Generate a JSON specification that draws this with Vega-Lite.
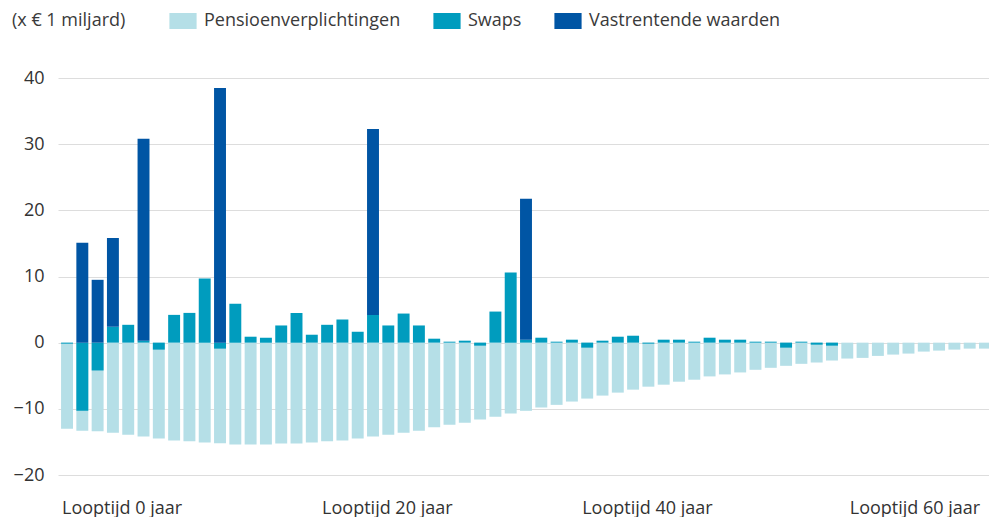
{
  "$schema": "https://vega.github.io/schema/vega-lite/v6.json",
  "autosize": {"type": "none"},
  "padding": {"left": 58, "top": 78, "right": 0, "bottom": 42},
  "width": 931,
  "height": 397,
  "background": "white",
  "config": {
    "view": {"stroke": null},
    "font": "Open Sans",
    "axis": {"labelFont": "Open Sans", "labelFontSize": 18, "labelColor": "#333333"},
    "legend": {"labelFont": "Open Sans", "titleFont": "Open Sans"}
  },
  "data": {
    "values": [
      {"j": 0, "Pensioenverplichtingen": -13.0, "Swaps": -0.15, "Vastrentende waarden": 0},
      {"j": 1, "Pensioenverplichtingen": -13.3, "Swaps": -10.3, "Vastrentende waarden": 15.1},
      {"j": 2, "Pensioenverplichtingen": -13.4, "Swaps": -4.2, "Vastrentende waarden": 9.5},
      {"j": 3, "Pensioenverplichtingen": -13.6, "Swaps": 2.4, "Vastrentende waarden": 13.4},
      {"j": 4, "Pensioenverplichtingen": -13.9, "Swaps": 2.7, "Vastrentende waarden": 0},
      {"j": 5, "Pensioenverplichtingen": -14.2, "Swaps": 0.3, "Vastrentende waarden": 30.5},
      {"j": 6, "Pensioenverplichtingen": -14.5, "Swaps": -1.05, "Vastrentende waarden": 0},
      {"j": 7, "Pensioenverplichtingen": -14.8, "Swaps": 4.2, "Vastrentende waarden": 0},
      {"j": 8, "Pensioenverplichtingen": -14.9, "Swaps": 4.5, "Vastrentende waarden": 0},
      {"j": 9, "Pensioenverplichtingen": -15.1, "Swaps": 9.7, "Vastrentende waarden": 0},
      {"j": 10, "Pensioenverplichtingen": -15.2, "Swaps": -0.9, "Vastrentende waarden": 38.5},
      {"j": 11, "Pensioenverplichtingen": -15.4, "Swaps": 5.9, "Vastrentende waarden": 0},
      {"j": 12, "Pensioenverplichtingen": -15.4, "Swaps": 0.9, "Vastrentende waarden": 0},
      {"j": 13, "Pensioenverplichtingen": -15.4, "Swaps": 0.75, "Vastrentende waarden": 0},
      {"j": 14, "Pensioenverplichtingen": -15.25, "Swaps": 2.6, "Vastrentende waarden": 0},
      {"j": 15, "Pensioenverplichtingen": -15.25, "Swaps": 4.5, "Vastrentende waarden": 0},
      {"j": 16, "Pensioenverplichtingen": -15.1, "Swaps": 1.2, "Vastrentende waarden": 0},
      {"j": 17, "Pensioenverplichtingen": -14.9, "Swaps": 2.7, "Vastrentende waarden": 0},
      {"j": 18, "Pensioenverplichtingen": -14.8, "Swaps": 3.5, "Vastrentende waarden": 0},
      {"j": 19, "Pensioenverplichtingen": -14.5, "Swaps": 1.65, "Vastrentende waarden": 0},
      {"j": 20, "Pensioenverplichtingen": -14.2, "Swaps": 4.2, "Vastrentende waarden": 28.1},
      {"j": 21, "Pensioenverplichtingen": -13.9, "Swaps": 2.6, "Vastrentende waarden": 0},
      {"j": 22, "Pensioenverplichtingen": -13.6, "Swaps": 4.4, "Vastrentende waarden": 0},
      {"j": 23, "Pensioenverplichtingen": -13.3, "Swaps": 2.6, "Vastrentende waarden": 0},
      {"j": 24, "Pensioenverplichtingen": -12.8, "Swaps": 0.6, "Vastrentende waarden": 0},
      {"j": 25, "Pensioenverplichtingen": -12.4, "Swaps": 0.15, "Vastrentende waarden": 0},
      {"j": 26, "Pensioenverplichtingen": -12.1, "Swaps": 0.3, "Vastrentende waarden": 0},
      {"j": 27, "Pensioenverplichtingen": -11.6, "Swaps": -0.45, "Vastrentende waarden": 0},
      {"j": 28, "Pensioenverplichtingen": -11.2, "Swaps": 4.7, "Vastrentende waarden": 0},
      {"j": 29, "Pensioenverplichtingen": -10.7, "Swaps": 10.6, "Vastrentende waarden": 0},
      {"j": 30, "Pensioenverplichtingen": -10.3, "Swaps": 0.45, "Vastrentende waarden": 21.3},
      {"j": 31, "Pensioenverplichtingen": -9.8, "Swaps": 0.75, "Vastrentende waarden": 0},
      {"j": 32, "Pensioenverplichtingen": -9.4, "Swaps": 0.15, "Vastrentende waarden": 0},
      {"j": 33, "Pensioenverplichtingen": -8.9, "Swaps": 0.45, "Vastrentende waarden": 0},
      {"j": 34, "Pensioenverplichtingen": -8.45, "Swaps": -0.75, "Vastrentende waarden": 0},
      {"j": 35, "Pensioenverplichtingen": -8.0, "Swaps": 0.3, "Vastrentende waarden": 0},
      {"j": 36, "Pensioenverplichtingen": -7.55, "Swaps": 0.9, "Vastrentende waarden": 0},
      {"j": 37, "Pensioenverplichtingen": -7.1, "Swaps": 1.05, "Vastrentende waarden": 0},
      {"j": 38, "Pensioenverplichtingen": -6.65, "Swaps": -0.15, "Vastrentende waarden": 0},
      {"j": 39, "Pensioenverplichtingen": -6.35, "Swaps": 0.45, "Vastrentende waarden": 0},
      {"j": 40, "Pensioenverplichtingen": -5.9, "Swaps": 0.45, "Vastrentende waarden": 0},
      {"j": 41, "Pensioenverplichtingen": -5.6, "Swaps": 0.15, "Vastrentende waarden": 0},
      {"j": 42, "Pensioenverplichtingen": -5.1, "Swaps": 0.75, "Vastrentende waarden": 0},
      {"j": 43, "Pensioenverplichtingen": -4.8, "Swaps": 0.45, "Vastrentende waarden": 0},
      {"j": 44, "Pensioenverplichtingen": -4.5, "Swaps": 0.45, "Vastrentende waarden": 0},
      {"j": 45, "Pensioenverplichtingen": -4.1, "Swaps": 0.15, "Vastrentende waarden": 0},
      {"j": 46, "Pensioenverplichtingen": -3.8, "Swaps": 0.15, "Vastrentende waarden": 0},
      {"j": 47, "Pensioenverplichtingen": -3.5, "Swaps": -0.75, "Vastrentende waarden": 0},
      {"j": 48, "Pensioenverplichtingen": -3.2, "Swaps": 0.15, "Vastrentende waarden": 0},
      {"j": 49, "Pensioenverplichtingen": -3.0, "Swaps": -0.3, "Vastrentende waarden": 0},
      {"j": 50, "Pensioenverplichtingen": -2.7, "Swaps": -0.45, "Vastrentende waarden": 0},
      {"j": 51, "Pensioenverplichtingen": -2.4, "Swaps": 0, "Vastrentende waarden": 0},
      {"j": 52, "Pensioenverplichtingen": -2.3, "Swaps": 0, "Vastrentende waarden": 0},
      {"j": 53, "Pensioenverplichtingen": -2.0, "Swaps": 0, "Vastrentende waarden": 0},
      {"j": 54, "Pensioenverplichtingen": -1.8, "Swaps": 0, "Vastrentende waarden": 0},
      {"j": 55, "Pensioenverplichtingen": -1.65, "Swaps": 0, "Vastrentende waarden": 0},
      {"j": 56, "Pensioenverplichtingen": -1.35, "Swaps": 0, "Vastrentende waarden": 0},
      {"j": 57, "Pensioenverplichtingen": -1.2, "Swaps": 0, "Vastrentende waarden": 0},
      {"j": 58, "Pensioenverplichtingen": -1.05, "Swaps": 0, "Vastrentende waarden": 0},
      {"j": 59, "Pensioenverplichtingen": -0.9, "Swaps": 0, "Vastrentende waarden": 0},
      {"j": 60, "Pensioenverplichtingen": -0.9, "Swaps": 0, "Vastrentende waarden": 0}
    ]
  },
  "transform": [
    {"fold": ["Pensioenverplichtingen", "Swaps", "Vastrentende waarden"], "as": ["serie", "waarde"]},
    {"filter": "datum.waarde != 0"}
  ],
  "encoding": {
    "x": {
      "field": "j",
      "type": "ordinal",
      "scale": {"range": [0, 936], "paddingInner": 0.22, "paddingOuter": 0.2},
      "axis": {
        "title": null,
        "domain": false,
        "ticks": false,
        "grid": false,
        "values": [0, 17, 34, 51],
        "bandPosition": 0,
        "labelAlign": "left",
        "labelAngle": 0,
        "labelPadding": 24,
        "labelOffset": {"condition": {"test": "datum.value == 51", "value": 2.5}, "value": -5},
        "labelExpr": "datum.value == 0 ? 'Looptijd 0 jaar' : datum.value == 17 ? 'Looptijd 20 jaar' : datum.value == 34 ? 'Looptijd 40 jaar' : 'Looptijd 60 jaar'"
      }
    },
    "color": {
      "field": "serie",
      "type": "nominal",
      "scale": {
        "domain": ["Pensioenverplichtingen", "Swaps", "Vastrentende waarden"],
        "range": ["#b5dfe7", "#009cbe", "#0055a4"]
      },
      "legend": {
        "title": "(x € 1 miljard)",
        "titleOrient": "left",
        "titleFontSize": 18,
        "titleFontWeight": "normal",
        "titleColor": "#3a3a3a",
        "titlePadding": 48,
        "orient": "none",
        "legendX": -46,
        "legendY": -66,
        "direction": "horizontal",
        "padding": 0,
        "symbolType": "M-1.7,-1H1.7V1H-1.7Z",
        "symbolSize": 256,
        "symbolStrokeWidth": 0,
        "symbolOpacity": 1,
        "labelOffset": 12,
        "labelFontSize": 18,
        "labelLimit": 0,
        "labelColor": "#3a3a3a",
        "columnPadding": 32
      }
    }
  },
  "layer": [
    {
      "transform": [{"filter": "datum.serie == 'Pensioenverplichtingen'"}],
      "mark": {"type": "bar"},
      "encoding": {
        "y": {
          "field": "waarde",
          "type": "quantitative",
          "stack": null,
          "scale": {"domain": [-20, 40], "nice": false},
          "axis": {
            "title": null,
            "values": [-20, -10, 0, 10, 20, 30, 40],
            "domain": false,
            "ticks": false,
            "tickSize": 0,
            "labelPadding": 14,
            "grid": true,
            "gridColor": "#dddddd",
            "gridWidth": 1
          }
        }
      }
    },
    {
      "transform": [{"filter": "datum.serie != 'Pensioenverplichtingen'"}],
      "mark": {"type": "bar"},
      "encoding": {
        "y": {"field": "waarde", "type": "quantitative", "stack": "zero"},
        "order": {"field": "serie", "sort": "ascending"}
      }
    }
  ]
}
